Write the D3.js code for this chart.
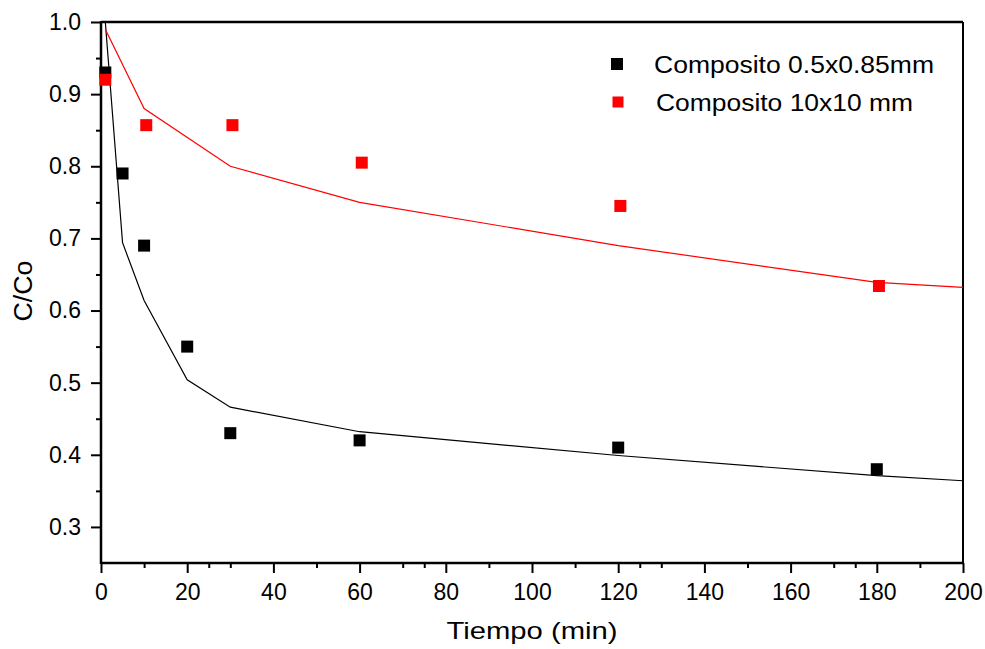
<!DOCTYPE html>
<html>
<head>
<meta charset="utf-8">
<script src="https://cdn.jsdelivr.net/npm/d3@7"></script>
<style>
  html, body { margin: 0; padding: 0; background: #fff; }
  svg { display: block; font-family: "Liberation Sans", Arial, sans-serif; }
</style>
</head>
<body>
<svg id="chart" width="985" height="649"></svg>
<script>
// Measured points: C/Co versus time (min)
const smallTime = [1, 5, 10, 20, 30, 60, 120, 180];
const smallValue = [0.93, 0.79, 0.69, 0.55, 0.43, 0.42, 0.41, 0.38];
const largeTime = [1, 10.5, 30.5, 60.5, 120.5, 180.5];
const largeValue = [0.92, 0.857, 0.857, 0.805, 0.745, 0.634];

// Kinetic fit curves
const smallFitTime = [1, 5, 10, 20, 30, 60, 120, 180, 200];
const smallFitValue = [1.0, 0.694, 0.614, 0.504, 0.466, 0.432, 0.399, 0.371, 0.364];
const largeFitTime = [1, 10, 30, 60, 120, 180, 200];
const largeFitValue = [0.99, 0.88, 0.80, 0.75, 0.69, 0.639, 0.632];

const seriesNames = ["Composito 0.5x0.85mm", "Composito 10x10 mm"];
const seriesColors = ["#000000", "#ff0000"];

const xMajorTicks = [0, 20, 40, 60, 80, 100, 120, 140, 160, 180, 200];
const xMinorTicks = [10, 25, 30, 50, 70, 75, 90, 110, 125, 130, 150, 170, 175, 190];
const yMajorTicks = [0.3, 0.4, 0.5, 0.6, 0.7, 0.8, 0.9, 1.0];
const yMinorTicks = [0.35, 0.45, 0.55, 0.65, 0.75, 0.85, 0.95];

const svg = d3.select("#chart");
const plotLeft = 101, plotRight = 963, plotTop = 22, plotBottom = 563;

const x = d3.scaleLinear().domain([0, 200]).range([plotLeft, plotRight]);
const y = d3.scaleLinear().domain([0.25, 1.0]).range([plotBottom, plotTop]);

svg.append("defs").append("clipPath").attr("id", "plotClip")
  .append("rect").attr("x", plotLeft).attr("y", plotTop)
  .attr("width", plotRight - plotLeft).attr("height", plotBottom - plotTop);

// Axes with outward ticks
function styleAxis(g) {
  g.select(".domain").remove();
  g.selectAll(".tick line").attr("stroke", "#000").attr("stroke-width", 2);
  g.selectAll(".tick text").attr("fill", "#000").style("font-size", "23px")
    .style("font-family", "'Liberation Sans', Arial, sans-serif");
}

svg.append("g").attr("transform", `translate(0,${plotBottom})`)
  .call(d3.axisBottom(x).tickValues(xMajorTicks).tickSize(10).tickPadding(11).tickFormat(d3.format("d")))
  .call(styleAxis);
svg.append("g").attr("transform", `translate(0,${plotBottom})`)
  .call(d3.axisBottom(x).tickValues(xMinorTicks).tickSize(5).tickFormat(""))
  .call(styleAxis);

svg.append("g").attr("transform", `translate(${plotLeft},0)`)
  .call(d3.axisLeft(y).tickValues(yMajorTicks).tickSize(10).tickPadding(10).tickFormat(d3.format(".1f")))
  .call(styleAxis);
svg.append("g").attr("transform", `translate(${plotLeft},0)`)
  .call(d3.axisLeft(y).tickValues(yMinorTicks).tickSize(5).tickFormat(""))
  .call(styleAxis);

// Frame
const frame = svg.append("g").attr("stroke", "#000").attr("fill", "none");
frame.append("line").attr("x1", plotLeft).attr("x2", plotRight).attr("y1", plotTop).attr("y2", plotTop).attr("stroke-width", 2.5);
frame.append("line").attr("x1", plotRight).attr("x2", plotRight).attr("y1", plotTop).attr("y2", plotBottom).attr("stroke-width", 2);
frame.append("line").attr("x1", plotLeft).attr("x2", plotRight + 1).attr("y1", plotBottom).attr("y2", plotBottom).attr("stroke-width", 2.5);
frame.append("line").attr("x1", plotLeft).attr("x2", plotLeft).attr("y1", plotTop - 1).attr("y2", plotBottom + 1).attr("stroke-width", 2.5);

// Fit curves
const line = d3.line().x(d => x(d[0])).y(d => y(d[1]));
const plot = svg.append("g").attr("clip-path", "url(#plotClip)");
plot.append("path").datum(d3.zip(smallFitTime, smallFitValue))
  .attr("d", line).attr("fill", "none").attr("stroke", seriesColors[0]).attr("stroke-width", 1.2);
plot.append("path").datum(d3.zip(largeFitTime, largeFitValue))
  .attr("d", line).attr("fill", "none").attr("stroke", seriesColors[1]).attr("stroke-width", 1.2);

// Square markers
const size = 12;
svg.append("g").selectAll("rect").data(d3.zip(smallTime, smallValue)).join("rect")
  .attr("x", d => x(d[0]) - size / 2).attr("y", d => y(d[1]) - size / 2)
  .attr("width", size).attr("height", size).attr("fill", seriesColors[0]);
svg.append("g").selectAll("rect").data(d3.zip(largeTime, largeValue)).join("rect")
  .attr("x", d => x(d[0]) - size / 2).attr("y", d => y(d[1]) - size / 2)
  .attr("width", size).attr("height", size).attr("fill", seriesColors[1]);

// Legend
const legendItems = [
  { name: seriesNames[0], color: seriesColors[0], mx: 617, my: 64, ms: 12, tx: 654, ty: 73, len: 280 },
  { name: seriesNames[1], color: seriesColors[1], mx: 618, my: 102, ms: 11, tx: 656, ty: 111, len: 257 }
];
const legend = svg.append("g");
legendItems.forEach(it => {
  legend.append("rect").attr("x", it.mx - it.ms / 2).attr("y", it.my - it.ms / 2)
    .attr("width", it.ms).attr("height", it.ms).attr("fill", it.color);
  legend.append("text").attr("x", it.tx).attr("y", it.ty)
    .attr("textLength", it.len).attr("lengthAdjust", "spacingAndGlyphs")
    .style("font-size", "23px").attr("fill", "#000").text(it.name);
});

// Axis titles
svg.append("text").attr("x", 532).attr("y", 639).attr("text-anchor", "middle")
  .attr("textLength", 171).attr("lengthAdjust", "spacingAndGlyphs")
  .style("font-size", "24px").attr("fill", "#000").text("Tiempo (min)");
svg.append("text").attr("transform", "translate(32,291) rotate(-90)").attr("text-anchor", "middle")
  .attr("textLength", 61).attr("lengthAdjust", "spacingAndGlyphs")
  .style("font-size", "25px").attr("fill", "#000").text("C/Co");
</script>
</body>
</html>
